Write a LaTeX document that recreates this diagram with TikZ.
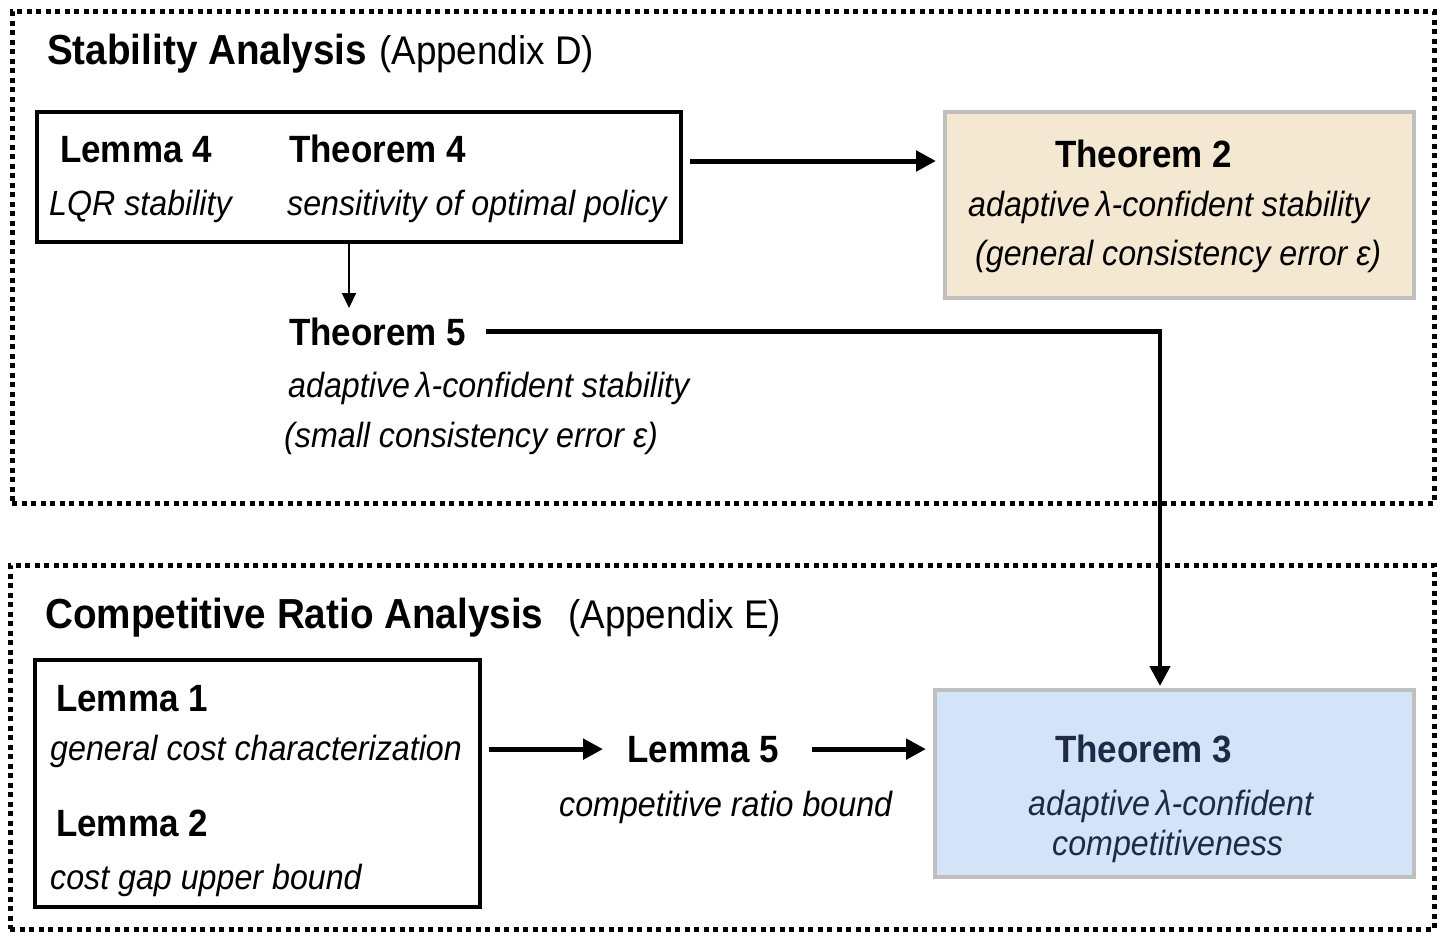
\documentclass[tikz,border=0pt]{standalone}
\usepackage{fontspec}
\setmainfont[FakeStretch=0.92]{Liberation Sans}
\usetikzlibrary{arrows.meta}
\definecolor{beige}{HTML}{F5E8D3}
\definecolor{lblue}{HTML}{D3E4F8}
\definecolor{bgray}{HTML}{BFBFBF}
\definecolor{navy}{HTML}{1E2A48}
\begin{document}
\begin{tikzpicture}[x=1pt,y=-1pt,
 txt/.style={anchor=base west,inner sep=0pt},
 head/.style={txt,font=\fontsize{42}{42}\selectfont\bfseries},
 headr/.style={txt,font=\fontsize{40}{40}\selectfont},
 ttl/.style={txt,font=\fontsize{38}{38}\selectfont\bfseries},
 desc/.style={txt,font=\fontsize{35}{35}\selectfont\itshape},
 group/.style={draw,line width=5pt,dash pattern=on 5pt off 4.5pt,inner sep=0pt},
 plainbox/.style={draw,line width=4.5pt,inner sep=0pt},
 resbox/.style={draw=bgray,line width=4pt,inner sep=0pt},
 arr/.style={line width=5pt,-{Triangle[length=20pt,width=20pt]}},
 sarr/.style={line width=2.2pt,-{Triangle[length=15pt,width=14pt]}},
]
\useasboundingbox (0,0) rectangle (1446,942);
% group frames
\node[group,minimum width=1422pt,minimum height=491pt] (stab) at (723,257.5) {};
\node[group,minimum width=1424pt,minimum height=364pt] (comp) at (722,747) {};
% boxes
\node[plainbox,minimum width=644pt,minimum height=130pt] (box4) at (359,177) {};
\node[resbox,fill=beige,minimum width=469pt,minimum height=186pt] (th2) at (1179.5,205) {};
\node[plainbox,minimum width=445pt,minimum height=247pt] (lbox) at (257.5,783.5) {};
\node[resbox,fill=lblue,minimum width=479pt,minimum height=187pt] (th3) at (1174.5,783.5) {};
% headings
\node[head] (hs) at (47,64) {Stability Analysis};
\node[headr] (hsa) at (379,64) {(Appendix D)};
\node[head] (hc) at (45,628) {Competitive Ratio Analysis};
\node[headr] (hca) at (568,628) {(Appendix E)};
% top texts
\node[ttl] (l4) at (60,162) {Lemma 4};
\node[ttl] (t4) at (289,162) {Theorem 4};
\node[desc] (l4d) at (49,215) {LQR stability};
\node[desc] (t4d) at (287,215) {sensitivity of optimal policy};
\node[ttl] (t2) at (1055,167) {Theorem 2};
\node[desc] (t2d) at (968,216) {adaptive\,λ-confident stability};
\node[desc] (t2e) at (975,265) {(general consistency error ε)};
\node[ttl] (t5) at (289,345) {Theorem 5};
\node[desc] (t5d) at (288,397) {adaptive\,λ-confident stability};
\node[desc] (t5e) at (284,447) {(small consistency error ε)};
% bottom texts
\node[ttl] (l1) at (56,711) {Lemma 1};
\node[desc] (l1d) at (50,760) {general cost characterization};
\node[ttl] (l2) at (56,836) {Lemma 2};
\node[desc] (l2d) at (50,889) {cost gap upper bound};
\node[ttl] (l5) at (627,762) {Lemma 5};
\node[desc] (l5d) at (559,816) {competitive ratio bound};
\node[ttl,text=navy] (t3) at (1055,762) {Theorem 3};
\node[desc,text=navy] (t3d) at (1028,815) {adaptive\,λ-confident};
\node[desc,text=navy] (t3e) at (1052,855) {competitiveness};
% connectors
\draw[arr] ([xshift=7pt,yshift=16pt]box4.east) -- ([xshift=-7pt,yshift=16pt]box4.east -| th2.west);
\coordinate (t5in) at (349,308);
\draw[sarr] (box4.south -| t5in) -- (t5in);
\draw[arr,line width=4.5pt] ([xshift=20pt]t5.east) -| ([xshift=-14.5pt,yshift=2pt]th3.north);
\draw[arr,shorten <=7pt,shorten >=24pt] (lbox.east |- l5.west) -- (l5.west);
\draw[arr,shorten <=33pt,shorten >=7pt] (l5.east) -- (l5.east -| th3.west);
\end{tikzpicture}
\end{document}
